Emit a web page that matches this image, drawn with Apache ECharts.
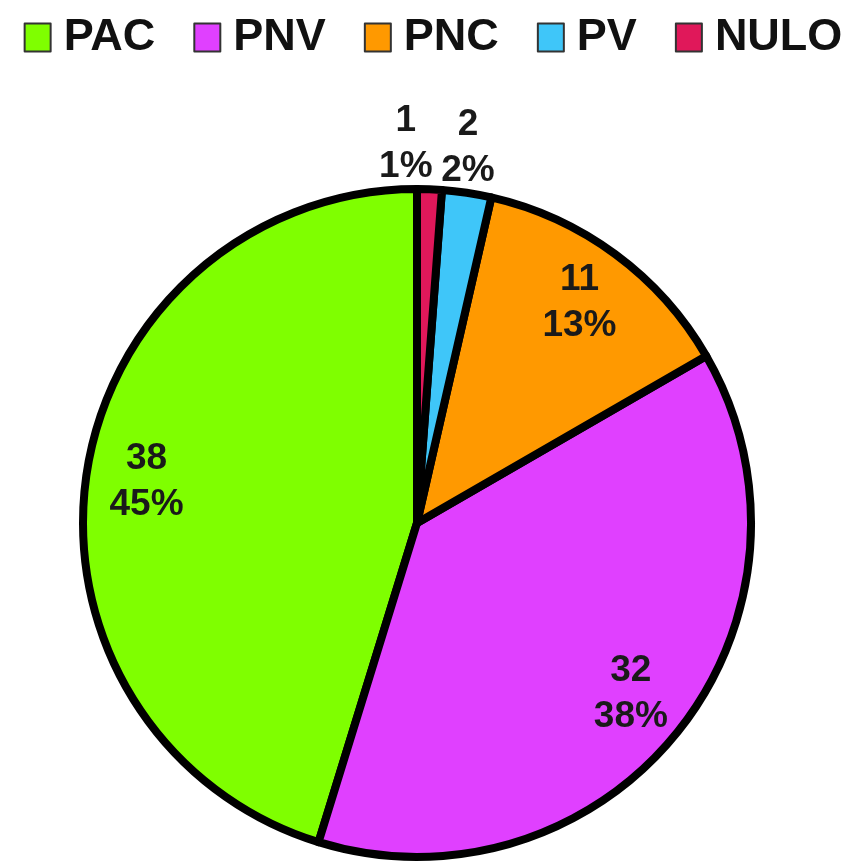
<!DOCTYPE html>
<html>
<head>
<meta charset="utf-8">
<script src="https://cdn.jsdelivr.net/npm/echarts@6/dist/echarts.min.js"></script>
<style>
  html, body { margin: 0; padding: 0; background: #fff; }
  #chart { width: 866px; height: 864px; }
</style>
</head>
<body>
<div id="chart"></div>
<script>
const categories = ['PAC', 'PNV', 'PNC', 'PV', 'NULO']
const values = [38, 32, 11, 2, 1]
const colors = ['#7fff00', '#e040ff', '#ff9900', '#3fc6f9', '#e0185a']
// small slices get their labels above the pie
const smallSlices = ['PV', 'NULO']

const center = [417, 523]
const pieRadius = 334

const chart = echarts.init(document.getElementById('chart'))

const labelFont = {
  fontFamily: 'Liberation Sans',
  fontWeight: 'bold',
  fontSize: 37,
  lineHeight: 46,
  color: '#1a1a1a'
}

function fmt(p) {
  return p.value + '\n' + Math.round(p.percent) + '%'
}

const mainData = categories.map((name, i) => ({
  name: name,
  value: values[i],
  itemStyle: { color: colors[i] },
  label: { show: smallSlices.indexOf(name) !== -1 }
}))

// transparent copy, larger, so that the inside labels sit at ~0.8 of the real radius
const labelData = categories.map((name, i) => ({
  name: name,
  value: values[i],
  label: { show: smallSlices.indexOf(name) === -1 }
}))

chart.setOption({
  animation: false,
  color: colors,
  legend: {
    top: 10,
    left: 'center',
    data: categories,
    itemWidth: 26,
    itemHeight: 28,
    itemGap: 38,
    icon: 'rect',
    selectedMode: false,
    itemStyle: { borderColor: '#333', borderWidth: 2 },
    textStyle: {
      fontFamily: 'Liberation Sans',
      fontWeight: 'bold',
      fontSize: 45,
      color: '#111',
      padding: [0, 0, 0, 8]
    }
  },
  series: [
    {
      type: 'pie',
      center: center,
      radius: [0, pieRadius],
      startAngle: 90,
      clockwise: false,
      avoidLabelOverlap: false,
      silent: true,
      itemStyle: { borderColor: '#000', borderWidth: 8 },
      label: Object.assign({
        position: 'outside',
        formatter: fmt
      }, labelFont),
      labelLine: { show: false, length: 8, length2: 0 },
      labelLayout: function (params) {
        return {
          align: 'center',
          dx: params.dataIndex === 4 ? -29 : -5,
          dy: -37
        }
      },
      data: mainData
    },
    {
      type: 'pie',
      center: center,
      radius: [0, pieRadius * 1.62],
      startAngle: 90,
      clockwise: false,
      silent: true,
      z: 3,
      itemStyle: { color: 'rgba(0,0,0,0)', borderWidth: 0 },
      label: Object.assign({
        position: 'inside',
        formatter: fmt
      }, labelFont),
      labelLine: { show: false },
      data: labelData
    }
  ]
})
</script>
</body>
</html>
